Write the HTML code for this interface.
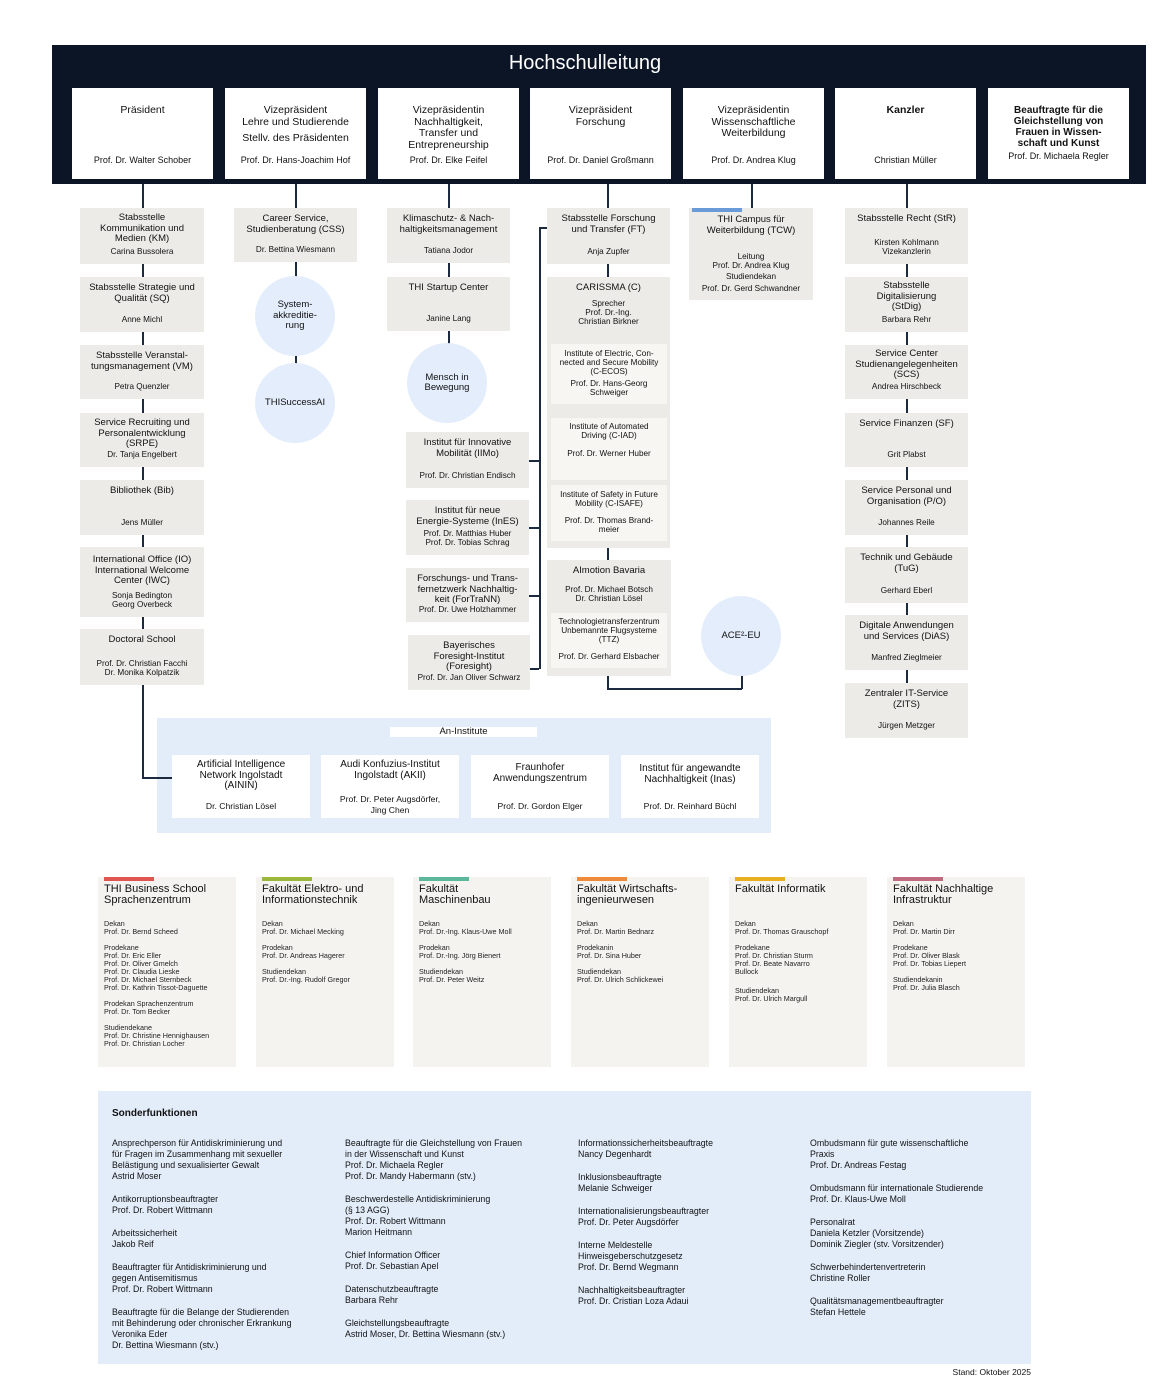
<!DOCTYPE html>
<html><head><meta charset="utf-8"><style>
body{margin:0;width:1170px;height:1400px;background:#fff;position:relative;font-family:"Liberation Sans",sans-serif;color:#111;overflow:hidden}
div{box-sizing:border-box}
.a{position:absolute}
.hd{left:52px;top:45px;width:1094px;height:139px;background:#0b1526}
.t{position:absolute;top:88px;width:141px;height:91px;background:#fff;text-align:center;font-size:10.5px;line-height:11.5px;padding-top:17px}
.t .n{position:absolute;left:0;right:0;bottom:13px;font-size:9px}
.g{position:absolute;background:#ecebe7;text-align:center;font-size:9.5px;line-height:10.5px;padding-top:6px}
.g .n{position:absolute;left:0;right:0;bottom:8px;font-size:8.2px;line-height:9px}
.w{position:absolute;background:#f7f6f3;text-align:center;font-size:8.2px;line-height:9px;padding-top:5px}
.w .n{position:absolute;left:0;right:0;bottom:7px}
.c{position:absolute;border-radius:50%;background:#e3edfb;display:flex;align-items:center;justify-content:center;text-align:center;font-size:9.5px;line-height:10.5px}
.l{position:absolute;background:#1b2a3e}
.v{width:1.5px}.h{height:1.5px}
.f{position:absolute;top:877px;width:138px;height:190px;background:#f4f3f0;padding:7px 6px;font-size:7.2px;line-height:8px;color:#222}
.f .bar{position:absolute;left:6px;top:0;width:50px;height:4px}
.f .ti{font-size:11px;line-height:11px;margin-top:0;margin-bottom:14px;color:#111}
.f p{margin:0 0 8px}
.s{position:absolute;font-size:8.8px;line-height:11px;width:225px}
.s p{margin:0 0 12px}
</style></head><body>
<div class="a hd"></div>
<div class="a" style="left:385px;top:52px;width:400px;text-align:center;color:#fff;font-size:20px">Hochschulleitung</div>

<div class="t" style="left:72px">Präsident<div class="n">Prof. Dr. Walter Schober</div></div>
<div class="t" style="left:225px">Vizepräsident<br>Lehre und Studierende<div style="margin-top:5px">Stellv. des Präsidenten</div><div class="n">Prof. Dr. Hans-Joachim Hof</div></div>
<div class="t" style="left:378px">Vizepräsidentin<br>Nachhaltigkeit,<br>Transfer und<br>Entrepreneurship<div class="n">Prof. Dr. Elke Feifel</div></div>
<div class="t" style="left:530px">Vizepräsident<br>Forschung<div class="n">Prof. Dr. Daniel Großmann</div></div>
<div class="t" style="left:683px">Vizepräsidentin<br>Wissenschaftliche<br>Weiterbildung<div class="n">Prof. Dr. Andrea Klug</div></div>
<div class="t" style="left:835px;font-weight:bold">Kanzler<div class="n" style="font-weight:normal">Christian Müller</div></div>
<div class="t" style="left:988px;font-size:10px;line-height:11px;font-weight:bold">Beauftragte für die<br>Gleichstellung von<br>Frauen in Wissen-<br>schaft und Kunst<div style="font-size:9px;margin-top:2px;font-weight:normal">Prof. Dr. Michaela Regler</div></div>

<!-- lines -->
<div class="l v" style="left:142px;top:184px;height:594px"></div>
<div class="l h" style="left:142px;top:777px;width:30px"></div>
<div class="l v" style="left:295px;top:184px;height:180px"></div>
<div class="l v" style="left:448px;top:184px;height:162px"></div>
<div class="l v" style="left:607px;top:184px;height:505px"></div>
<div class="l h" style="left:539px;top:227px;width:69px"></div>
<div class="l v" style="left:539px;top:227px;height:442px"></div>
<div class="l h" style="left:529px;top:460px;width:10px"></div>
<div class="l h" style="left:529px;top:527px;width:10px"></div>
<div class="l h" style="left:529px;top:595px;width:10px"></div>
<div class="l h" style="left:529px;top:668px;width:10px"></div>
<div class="l h" style="left:607px;top:688px;width:135px"></div>
<div class="l v" style="left:741px;top:670px;height:19px"></div>
<div class="l v" style="left:751px;top:184px;height:24px"></div>
<div class="l v" style="left:906px;top:184px;height:510px"></div>

<!-- col1 -->
<div class="g" style="left:80px;top:208px;width:124px;height:56px;padding-top:5px">Stabsstelle<br>Kommunikation und<br>Medien (KM)<div class="n">Carina Bussolera</div></div>
<div class="g" style="left:80px;top:277px;width:124px;height:55px">Stabsstelle Strategie und<br>Qualität (SQ)<div class="n">Anne Michl</div></div>
<div class="g" style="left:80px;top:345px;width:124px;height:54px">Stabsstelle Veranstal-<br>tungsmanagement (VM)<div class="n">Petra Quenzler</div></div>
<div class="g" style="left:80px;top:413px;width:124px;height:54px;padding-top:5px">Service Recruiting und<br>Personalentwicklung<br>(SRPE)<div class="n">Dr. Tanja Engelbert</div></div>
<div class="g" style="left:80px;top:480px;width:124px;height:55px">Bibliothek (Bib)<div class="n">Jens Müller</div></div>
<div class="g" style="left:80px;top:547px;width:124px;height:70px;padding-top:8px">International Office (IO)<br>International Welcome<br>Center (IWC)<div class="n">Sonja Bedington<br>Georg Overbeck</div></div>
<div class="g" style="left:80px;top:629px;width:124px;height:56px">Doctoral School<div class="n">Prof. Dr. Christian Facchi<br>Dr. Monika Kolpatzik</div></div>

<!-- col2 -->
<div class="g" style="left:234px;top:208px;width:123px;height:54px">Career Service,<br>Studienberatung (CSS)<div class="n">Dr. Bettina Wiesmann</div></div>
<div class="c" style="left:255px;top:276px;width:80px;height:80px">System-<br>akkreditie-<br>rung</div>
<div class="l v" style="left:295px;top:356px;height:8px"></div>
<div class="c" style="left:255px;top:363px;width:80px;height:80px">THISuccessAI</div>

<!-- col3 -->
<div class="g" style="left:387px;top:208px;width:123px;height:55px">Klimaschutz- &amp; Nach-<br>haltigkeitsmanagement<div class="n">Tatiana Jodor</div></div>
<div class="g" style="left:387px;top:277px;width:123px;height:54px">THI Startup Center<div class="n">Janine Lang</div></div>
<div class="c" style="left:407px;top:343px;width:80px;height:80px">Mensch in<br>Bewegung</div>
<div class="g" style="left:406px;top:432px;width:123px;height:56px">Institut für Innovative<br>Mobilität (IIMo)<div class="n">Prof. Dr. Christian Endisch</div></div>
<div class="g" style="left:406px;top:500px;width:123px;height:55px">Institut für neue<br>Energie-Systeme (InES)<div class="n">Prof. Dr. Matthias Huber<br>Prof. Dr. Tobias Schrag</div></div>
<div class="g" style="left:406px;top:568px;width:123px;height:54px">Forschungs- und Trans-<br>fernetzwerk Nachhaltig-<br>keit (ForTraNN)<div class="n">Prof. Dr. Uwe Holzhammer</div></div>
<div class="g" style="left:408px;top:635px;width:122px;height:55px">Bayerisches<br>Foresight-Institut<br>(Foresight)<div class="n">Prof. Dr. Jan Oliver Schwarz</div></div>

<!-- col4 -->
<div class="g" style="left:547px;top:208px;width:123px;height:56px">Stabsstelle Forschung<br>und Transfer (FT)<div class="n">Anja Zupfer</div></div>
<div class="g" style="left:547px;top:277px;width:123px;height:271px">CARISSMA (C)<div style="font-size:8.2px;line-height:9px;margin-top:5px">Sprecher<br>Prof. Dr.-Ing.<br>Christian Birkner</div></div>
<div class="w" style="left:551px;top:344px;width:116px;height:60px">Institute of Electric, Con-<br>nected and Secure Mobility<br>(C-ECOS)<div class="n">Prof. Dr. Hans-Georg<br>Schweiger</div></div>
<div class="w" style="left:551px;top:418px;width:116px;height:62px;padding-top:4px">Institute of Automated<br>Driving (C-IAD)<div style="margin-top:9px">Prof. Dr. Werner Huber</div></div>
<div class="w" style="left:551px;top:485px;width:116px;height:56px">Institute of Safety in Future<br>Mobility (C-ISAFE)<div class="n">Prof. Dr. Thomas Brand-<br>meier</div></div>
<div class="l v" style="left:607px;top:548px;height:12px"></div>
<div class="g" style="left:547px;top:560px;width:124px;height:116px">AImotion Bavaria<div style="font-size:8.2px;line-height:9px;margin-top:8px">Prof. Dr. Michael Botsch<br>Dr. Christian Lösel</div></div>
<div class="w" style="left:551px;top:613px;width:116px;height:55px;padding-top:4px">Technologietransferzentrum<br>Unbemannte Flugsysteme<br>(TTZ)<div class="n">Prof. Dr. Gerhard Elsbacher</div></div>
<div class="c" style="left:701px;top:596px;width:80px;height:80px">ACE²-EU</div>

<!-- col5 -->
<div class="g" style="left:689px;top:208px;width:124px;height:92px;padding-top:7px">THI Campus für<br>Weiterbildung (TCW)<div class="n" style="bottom:7px">Leitung<br>Prof. Dr. Andrea Klug<br><span style="line-height:14px">Studiendekan</span><br>Prof. Dr. Gerd Schwandner</div></div>
<div class="a" style="left:692px;top:208px;width:50px;height:4px;background:#6a9bd8"></div>

<!-- col6 -->
<div class="g" style="left:845px;top:208px;width:123px;height:56px">Stabsstelle Recht (StR)<div class="n">Kirsten Kohlmann<br>Vizekanzlerin</div></div>
<div class="g" style="left:845px;top:277px;width:123px;height:55px;padding-top:4px">Stabsstelle<br>Digitalisierung<br>(StDig)<div class="n">Barbara Rehr</div></div>
<div class="g" style="left:845px;top:345px;width:123px;height:54px;padding-top:4px">Service Center<br>Studienangelegenheiten<br>(SCS)<div class="n">Andrea Hirschbeck</div></div>
<div class="g" style="left:845px;top:413px;width:123px;height:54px">Service Finanzen (SF)<div class="n">Grit Plabst</div></div>
<div class="g" style="left:845px;top:480px;width:123px;height:55px">Service Personal und<br>Organisation (P/O)<div class="n">Johannes Reile</div></div>
<div class="g" style="left:845px;top:547px;width:123px;height:56px">Technik und Gebäude<br>(TuG)<div class="n">Gerhard Eberl</div></div>
<div class="g" style="left:845px;top:615px;width:123px;height:55px">Digitale Anwendungen<br>und Services (DiAS)<div class="n">Manfred Zieglmeier</div></div>
<div class="g" style="left:845px;top:683px;width:123px;height:55px">Zentraler IT-Service<br>(ZITS)<div class="n">Jürgen Metzger</div></div>

<!-- An-Institute -->
<div class="a" style="left:157px;top:718px;width:614px;height:115px;background:#e3edfa"></div>
<div class="l h" style="left:142px;top:777px;width:30px"></div>
<div class="a" style="left:390px;top:727px;width:147px;height:10px;background:#fff;font-size:9.5px;line-height:10px;text-align:center">An-Institute</div>
<div class="w" style="left:172px;top:755px;width:138px;height:63px;background:#fff;font-size:10px;line-height:10.5px;padding-top:5px">Artificial Intelligence<br>Network Ingolstadt<br>(AININ)<div class="n" style="font-size:8.6px">Dr. Christian Lösel</div></div>
<div class="w" style="left:321px;top:755px;width:138px;height:63px;background:#fff;font-size:10px;line-height:10.5px;padding-top:5px">Audi Konfuzius-Institut<br>Ingolstadt (AKII)<div class="n" style="font-size:8.6px;bottom:3px">Prof. Dr. Peter Augsdörfer,<br>Jing Chen</div></div>
<div class="w" style="left:471px;top:755px;width:138px;height:63px;background:#fff;font-size:10px;line-height:10.5px;padding-top:8px">Fraunhofer<br>Anwendungszentrum<div class="n" style="font-size:8.6px">Prof. Dr. Gordon Elger</div></div>
<div class="w" style="left:621px;top:755px;width:138px;height:63px;background:#fff;font-size:10px;line-height:10.5px;padding-top:9px">Institut für angewandte<br>Nachhaltigkeit (Inas)<div class="n" style="font-size:8.6px">Prof. Dr. Reinhard Büchl</div></div>

<!-- Faculties -->
<div class="f" style="left:98px"><div class="bar" style="background:#e0554f"></div><div class="ti">THI Business School<br>Sprachenzentrum</div><p>Dekan<br>Prof. Dr. Bernd Scheed</p><p>Prodekane<br>Prof. Dr. Eric Eller<br>Prof. Dr. Oliver Gmelch<br>Prof. Dr. Claudia Lieske<br>Prof. Dr. Michael Sternbeck<br>Prof. Dr. Kathrin Tissot-Daguette</p><p>Prodekan Sprachenzentrum<br>Prof. Dr. Tom Becker</p><p>Studiendekane<br>Prof. Dr. Christine Hennighausen<br>Prof. Dr. Christian Locher</p></div>
<div class="f" style="left:256px"><div class="bar" style="background:#9bb83a"></div><div class="ti">Fakultät Elektro- und<br>Informationstechnik</div><p>Dekan<br>Prof. Dr. Michael Mecking</p><p>Prodekan<br>Prof. Dr. Andreas Hagerer</p><p>Studiendekan<br>Prof. Dr.-Ing. Rudolf Gregor</p></div>
<div class="f" style="left:413px"><div class="bar" style="background:#5bb89a"></div><div class="ti">Fakultät<br>Maschinenbau</div><p>Dekan<br>Prof. Dr.-Ing. Klaus-Uwe Moll</p><p>Prodekan<br>Prof. Dr.-Ing. Jörg Bienert</p><p>Studiendekan<br>Prof. Dr. Peter Weitz</p></div>
<div class="f" style="left:571px"><div class="bar" style="background:#f08a3b"></div><div class="ti">Fakultät Wirtschafts-<br>ingenieurwesen</div><p>Dekan<br>Prof. Dr. Martin Bednarz</p><p>Prodekanin<br>Prof. Dr. Sina Huber</p><p>Studiendekan<br>Prof. Dr. Ulrich Schlickewei</p></div>
<div class="f" style="left:729px"><div class="bar" style="background:#e8b020"></div><div class="ti" style="margin-bottom:25px">Fakultät Informatik</div><p>Dekan<br>Prof. Dr. Thomas Grauschopf</p><p>Prodekane<br>Prof. Dr. Christian Sturm<br>Prof. Dr. Beate Navarro<br>Bullock</p><p style="margin-top:11px">Studiendekan<br>Prof. Dr. Ulrich Margull</p></div>
<div class="f" style="left:887px"><div class="bar" style="background:#c06a80"></div><div class="ti">Fakultät Nachhaltige<br>Infrastruktur</div><p>Dekan<br>Prof. Dr. Martin Dirr</p><p>Prodekane<br>Prof. Dr. Oliver Blask<br>Prof. Dr. Tobias Liepert</p><p>Studiendekanin<br>Prof. Dr. Julia Blasch</p></div>

<!-- Sonderfunktionen -->
<div class="a" style="left:98px;top:1091px;width:933px;height:273px;background:#e3edfa"></div>
<div class="a" style="left:112px;top:1108px;font-size:10px;font-weight:bold">Sonderfunktionen</div>
<div class="s" style="left:112px;top:1138px"><p>Ansprechperson für Antidiskriminierung und<br>für Fragen im Zusammenhang mit sexueller<br>Belästigung und sexualisierter Gewalt<br>Astrid Moser</p><p>Antikorruptionsbeauftragter<br>Prof. Dr. Robert Wittmann</p><p>Arbeitssicherheit<br>Jakob Reif</p><p>Beauftragter für Antidiskriminierung und<br>gegen Antisemitismus<br>Prof. Dr. Robert Wittmann</p><p>Beauftragte für die Belange der Studierenden<br>mit Behinderung oder chronischer Erkrankung<br>Veronika Eder<br>Dr. Bettina Wiesmann (stv.)</p></div>
<div class="s" style="left:345px;top:1138px"><p>Beauftragte für die Gleichstellung von Frauen<br>in der Wissenschaft und Kunst<br>Prof. Dr. Michaela Regler<br>Prof. Dr. Mandy Habermann (stv.)</p><p>Beschwerdestelle Antidiskriminierung<br>(§ 13 AGG)<br>Prof. Dr. Robert Wittmann<br>Marion Heitmann</p><p>Chief Information Officer<br>Prof. Dr. Sebastian Apel</p><p>Datenschutzbeauftragte<br>Barbara Rehr</p><p>Gleichstellungsbeauftragte<br>Astrid Moser, Dr. Bettina Wiesmann (stv.)</p></div>
<div class="s" style="left:578px;top:1138px"><p>Informationssicherheitsbeauftragte<br>Nancy Degenhardt</p><p>Inklusionsbeauftragte<br>Melanie Schweiger</p><p>Internationalisierungsbeauftragter<br>Prof. Dr. Peter Augsdörfer</p><p>Interne Meldestelle<br>Hinweisgeberschutzgesetz<br>Prof. Dr. Bernd Wegmann</p><p>Nachhaltigkeitsbeauftragter<br>Prof. Dr. Cristian Loza Adaui</p></div>
<div class="s" style="left:810px;top:1138px"><p>Ombudsmann für gute wissenschaftliche<br>Praxis<br>Prof. Dr. Andreas Festag</p><p>Ombudsmann für internationale Studierende<br>Prof. Dr. Klaus-Uwe Moll</p><p>Personalrat<br>Daniela Ketzler (Vorsitzende)<br>Dominik Ziegler (stv. Vorsitzender)</p><p>Schwerbehindertenvertreterin<br>Christine Roller</p><p>Qualitätsmanagementbeauftragter<br>Stefan Hettele</p></div>
<div class="a" style="left:831px;top:1367px;width:200px;text-align:right;font-size:8.5px">Stand: Oktober 2025</div>
</body></html>
